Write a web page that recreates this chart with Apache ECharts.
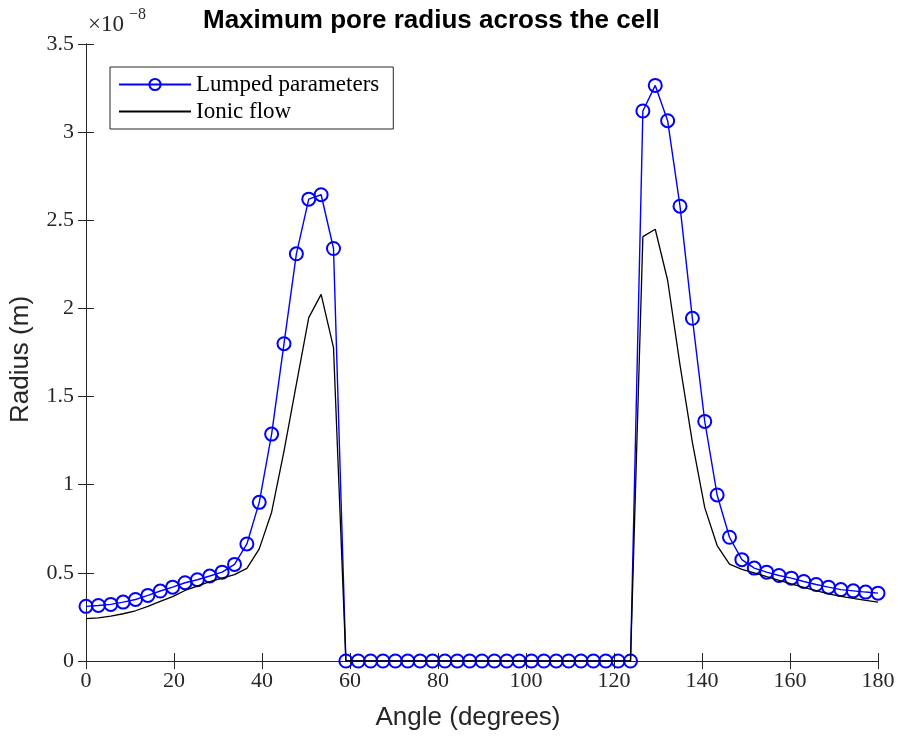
<!DOCTYPE html>
<html>
<head>
<meta charset="utf-8">
<script src="https://cdn.jsdelivr.net/npm/echarts@6/dist/echarts.min.js"></script>
<style>
  html, body { margin: 0; padding: 0; background: #ffffff; }
  #chart { width: 898px; height: 736px; }
</style>
</head>
<body>
<div id="chart"></div>
<script>
// Angle of each sample point along the cell (degrees)
const angles = [
  0, 2.8125, 5.625, 8.4375, 11.25, 14.0625, 16.875, 19.6875, 22.5, 25.3125,
  28.125, 30.9375, 33.75, 36.5625, 39.375, 42.1875, 45, 47.8125, 50.625, 53.4375,
  56.25, 59.0625, 61.875, 64.6875, 67.5, 70.3125, 73.125, 75.9375, 78.75, 81.5625,
  84.375, 87.1875, 90, 92.8125, 95.625, 98.4375, 101.25, 104.0625, 106.875, 109.6875,
  112.5, 115.3125, 118.125, 120.9375, 123.75, 126.5625, 129.375, 132.1875, 135, 137.8125,
  140.625, 143.4375, 146.25, 149.0625, 151.875, 154.6875, 157.5, 160.3125, 163.125, 165.9375,
  168.75, 171.5625, 174.375, 177.1875, 180
];

// Maximum pore radius, in units of 1e-8 m
const lumped = [
  0.310, 0.315, 0.321, 0.334, 0.349, 0.372, 0.397, 0.419, 0.444, 0.461,
  0.482, 0.504, 0.548, 0.664, 0.900, 1.287, 1.800, 2.310, 2.620, 2.645,
  2.340, 0, 0, 0, 0, 0, 0, 0, 0, 0,
  0, 0, 0, 0, 0, 0, 0, 0, 0, 0,
  0, 0, 0, 0, 0, 3.120, 3.265, 3.065, 2.580, 1.944,
  1.359, 0.942, 0.702, 0.575, 0.527, 0.504, 0.485, 0.470, 0.451, 0.434,
  0.419, 0.405, 0.398, 0.391, 0.385
];

const ionic = [
  0.240, 0.245, 0.255, 0.268, 0.285, 0.310, 0.338, 0.365, 0.400, 0.425,
  0.450, 0.470, 0.490, 0.525, 0.636, 0.844, 1.190, 1.570, 1.948, 2.080,
  1.778, 0, 0, 0, 0, 0, 0, 0, 0, 0,
  0, 0, 0, 0, 0, 0, 0, 0, 0, 0,
  0, 0, 0, 0, 0, 2.407, 2.449, 2.160, 1.680, 1.240,
  0.870, 0.655, 0.550, 0.520, 0.500, 0.478, 0.457, 0.437, 0.418, 0.399,
  0.381, 0.367, 0.355, 0.344, 0.334
];

const seriesNames = ['Lumped parameters', 'Ionic flow'];
const titleText = 'Maximum pore radius across the cell';
const xName = 'Angle (degrees)';
const yName = 'Radius (m)';
const exponentBase = '\u00d710';
const exponentPower = '\u22128';

const xRange = { min: 0, max: 180, interval: 20 };
const yRange = { min: 0, max: 3.5, interval: 0.5 };

const AXIS_COLOR = '#262626';
const SERIF = '"Liberation Serif", "DejaVu Serif", serif';
const SANS = '"Liberation Sans", Arial, Helvetica, sans-serif';

function pairs(xs, ys) { return xs.map((x, i) => [x, ys[i]]); }

const axisCommon = {
  axisLine: { show: true, lineStyle: { color: AXIS_COLOR, width: 1 } },
  axisTick: { show: true, inside: true, length: 8, lineStyle: { color: AXIS_COLOR, width: 1 } },
  splitLine: { show: false },
  minorTick: { show: false }
};

const chart = echarts.init(document.getElementById('chart'), null, { renderer: 'canvas' });

chart.setOption({
  animation: false,
  backgroundColor: '#ffffff',
  title: {
    text: titleText,
    left: 198,
    top: 3,
    textStyle: { fontFamily: SANS, fontWeight: 'bold', fontSize: 26, color: '#000000' }
  },
  graphic: [
    {
      type: 'text', left: 88, top: 13,
      style: { text: exponentBase, font: '23px ' + SERIF, fill: AXIS_COLOR }
    },
    {
      type: 'text', left: 129, top: 7,
      style: { text: exponentPower, font: '16px ' + SERIF, fill: AXIS_COLOR }
    }
  ],
  legend: {
    data: [
      { name: seriesNames[0] },
      // the ionic-flow entry shows only its line
      { name: seriesNames[1], itemStyle: { color: 'rgba(0,0,0,0)', borderWidth: 0, opacity: 0 } }
    ],
    orient: 'vertical',
    left: 110,
    top: 67,
    padding: [6, 14, 6, 8],
    itemGap: 4,
    itemWidth: 72,
    itemHeight: 14,
    backgroundColor: '#ffffff',
    borderColor: '#262626',
    borderWidth: 1,
    borderRadius: 0,
    textStyle: { fontFamily: SERIF, fontSize: 23, color: '#000000', lineHeight: 23 }
  },
  grid: { left: 86, right: 20, top: 44, bottom: 74, containLabel: false },
  xAxis: [
    Object.assign({
      type: 'value', position: 'bottom',
      min: xRange.min, max: xRange.max, interval: xRange.interval,
      name: xName, nameLocation: 'middle', nameGap: 44,
      nameTextStyle: { fontFamily: SANS, fontSize: 26, color: AXIS_COLOR, padding: [0, 28, 0, 0] },
      axisLabel: { fontFamily: SERIF, fontSize: 22, color: AXIS_COLOR, margin: 9 }
    }, axisCommon),
    Object.assign({
      type: 'value', position: 'top',
      min: xRange.min, max: xRange.max, interval: xRange.interval,
      axisLabel: { show: false }
    }, axisCommon)
  ],
  yAxis: [
    Object.assign({
      type: 'value', position: 'left',
      min: yRange.min, max: yRange.max, interval: yRange.interval,
      name: yName, nameLocation: 'middle', nameGap: 52, nameRotate: 90,
      nameTextStyle: { fontFamily: SANS, fontSize: 26, color: AXIS_COLOR, padding: [0, 14, 0, 0] },
      axisLabel: { fontFamily: SERIF, fontSize: 22, color: AXIS_COLOR, margin: 12,
        formatter: v => String(Math.round(v * 10) / 10) }
    }, axisCommon),
    Object.assign({
      type: 'value', position: 'right',
      min: yRange.min, max: yRange.max, interval: yRange.interval,
      axisLabel: { show: false }
    }, axisCommon)
  ],
  series: [
    {
      name: seriesNames[0],
      type: 'line',
      xAxisIndex: 0, yAxisIndex: 0,
      data: pairs(angles, lumped),
      symbol: 'circle',
      symbolSize: 13,
      showAllSymbol: true,
      color: '#0000ff',
      itemStyle: { color: 'rgba(0,0,0,0)', borderColor: '#0000ff', borderWidth: 2 },
      lineStyle: { color: '#0000ff', width: 1.4 },
      emphasis: { disabled: true },
      z: 2
    },
    {
      name: seriesNames[1],
      type: 'line',
      xAxisIndex: 0, yAxisIndex: 0,
      data: pairs(angles, ionic),
      symbol: 'none',
      color: '#000000',
      lineStyle: { color: '#000000', width: 1.3 },
      emphasis: { disabled: true },
      z: 3
    }
  ]
});
</script>
</body>
</html>
